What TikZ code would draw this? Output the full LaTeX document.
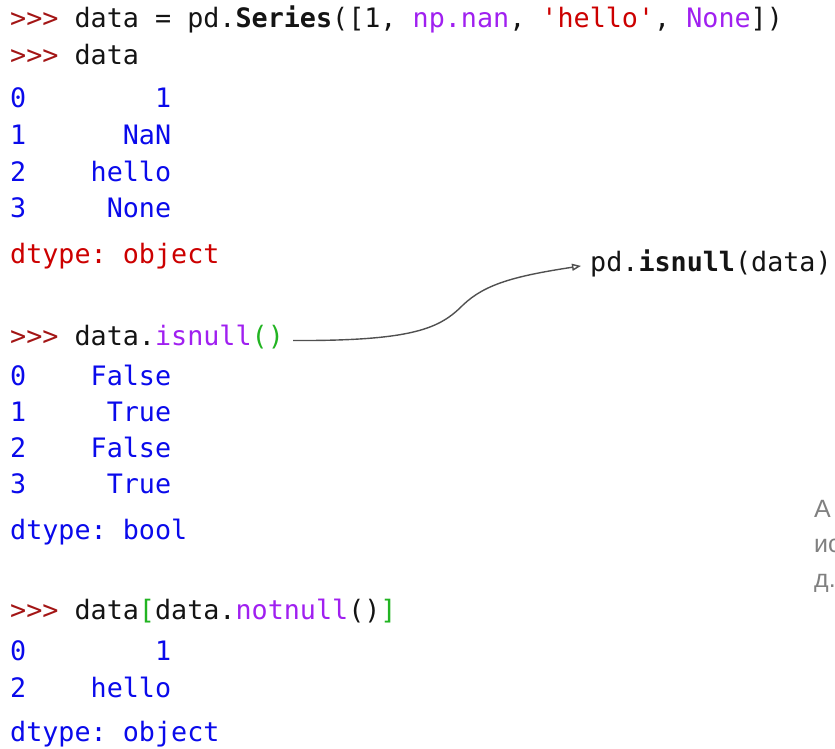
\documentclass[tikz,border=0pt]{standalone}
\usepackage{fontspec}
\usetikzlibrary{arrows.meta}
\newfontfamily\codefont{DejaVu Sans Mono}
\newfontfamily\greyfont{Liberation Sans}
\definecolor{prm}{RGB}{163,21,21}
\definecolor{strc}{RGB}{204,0,0}
\definecolor{purc}{RGB}{160,32,240}
\definecolor{outb}{RGB}{10,10,235}
\definecolor{grnc}{RGB}{34,180,34}
\definecolor{txtc}{RGB}{20,20,20}
\definecolor{arrc}{RGB}{80,80,80}
\definecolor{greyc}{RGB}{128,128,128}
\begin{document}
\begin{tikzpicture}[x=1pt,y=-1pt,
  code/.style={anchor=base west, inner sep=0pt, font=\codefont\fontsize{26.74}{32}\selectfont, text=txtc},
  outl/.style={code, text=outb},
  errl/.style={code, text=strc},
  greytxt/.style={anchor=base west, inner sep=0pt, font=\greyfont\fontsize{25}{30}\selectfont, text=greyc},
  conn/.style={draw=arrc, line width=1.4pt, -{Triangle[open,length=9pt,width=7pt]}}]
\useasboundingbox (0,0) rectangle (835,749);
\clip (0,0) rectangle (835,749);
% block 1
\node[code] (l1) at (10,28) {\textcolor{prm}{>>>} data = pd.\textbf{Series}([1, \textcolor{purc}{np.nan}, \textcolor{strc}{'hello'}, \textcolor{purc}{None}])};
\node[code] (l2) at (10,65) {\textcolor{prm}{>>>} data};
\node[outl] (r1) at (10,108) {0~~~~~~~~1};
\node[outl] (r2) at (10,144) {1~~~~~~NaN};
\node[outl] (r3) at (10,181) {2~~~~hello};
\node[outl] (r4) at (10,217) {3~~~~~None};
\node[errl] (d1) at (10,263) {dtype:~object};
% block 2
\node[code] (l8) at (10,345) {\textcolor{prm}{>>>} data.\textcolor{purc}{isnull}\textcolor{grnc}{()}};
\node[outl] (s1) at (10,385) {0~~~~False};
\node[outl] (s2) at (10,421) {1~~~~~True};
\node[outl] (s3) at (10,457) {2~~~~False};
\node[outl] (s4) at (10,493) {3~~~~~True};
\node[outl] (d2) at (10,539) {dtype:~bool};
% block 3
\node[code] (l9) at (10,619) {\textcolor{prm}{>>>} data\textcolor{grnc}{[}data.\textcolor{purc}{notnull}()\textcolor{grnc}{]}};
\node[outl] (t1) at (10,660) {0~~~~~~~~1};
\node[outl] (t2) at (10,697) {2~~~~hello};
\node[outl] (d3) at (10,741) {dtype:~object};
% side label
\node[code] (pdn) at (590,271) {pd.\textbf{isnull}(data)};
\coordinate (s) at ([xshift=9pt,yshift=-4pt]l8.east);
\coordinate (e) at ([xshift=-9pt,yshift=-3pt]pdn.west);
\coordinate (m) at (463,305);
\draw[conn] (s) .. controls (415,341) and (440,328) .. (m)
                .. controls (485,284) and (515,276) .. (e);
% grey clipped text
\node[greytxt] (g1) at (814,517) {А};
\node[greytxt] (g2) at (814,552) {ис};
\node[greytxt] (g3) at (814,587) {д.};
\end{tikzpicture}
\end{document}
